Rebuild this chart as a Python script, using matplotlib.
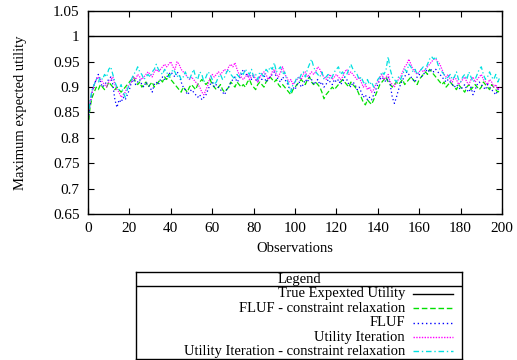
import matplotlib
matplotlib.use("Agg")
import matplotlib.pyplot as plt
import numpy as np
from matplotlib.lines import Line2D

plt.rcParams['font.family'] = ['Liberation Serif', 'DejaVu Serif']
plt.rcParams['font.size'] = 10.5

true_utility = 1.0

fluf_cr = [
    0.82, 0.86, 0.88, 0.89, 0.9, 0.895, 0.905, 0.9, 0.895, 0.9,
    0.91, 0.905, 0.9, 0.895, 0.9, 0.895, 0.89, 0.895, 0.9, 0.905,
    0.91, 0.915, 0.92, 0.91, 0.905, 0.91, 0.9, 0.905, 0.91, 0.9,
    0.905, 0.91, 0.9, 0.905, 0.91, 0.915, 0.91, 0.92, 0.915, 0.925,
    0.915, 0.91, 0.905, 0.9, 0.895, 0.89, 0.9, 0.895, 0.89, 0.9,
    0.905, 0.9, 0.895, 0.905, 0.91, 0.915, 0.91, 0.905, 0.91, 0.915,
    0.905, 0.9, 0.895, 0.9, 0.905, 0.895, 0.89, 0.895, 0.9, 0.91,
    0.905, 0.9, 0.91, 0.905, 0.9, 0.905, 0.9, 0.91, 0.915, 0.905,
    0.9, 0.895, 0.905, 0.91, 0.905, 0.9, 0.91, 0.915, 0.92, 0.915,
    0.91, 0.915, 0.905, 0.9, 0.905, 0.9, 0.895, 0.89, 0.885, 0.895,
    0.9, 0.905, 0.91, 0.915, 0.91, 0.905, 0.915, 0.92, 0.91, 0.905,
    0.91, 0.905, 0.9, 0.89, 0.877, 0.885, 0.89, 0.895, 0.9, 0.895,
    0.9, 0.905, 0.91, 0.915, 0.91, 0.905, 0.9, 0.91, 0.905, 0.9,
    0.895, 0.885, 0.88, 0.87, 0.865, 0.875, 0.87, 0.866, 0.875, 0.885,
    0.895, 0.905, 0.91, 0.915, 0.92, 0.91, 0.905, 0.9, 0.905, 0.91,
    0.905, 0.91, 0.915, 0.905, 0.91, 0.915, 0.92, 0.915, 0.91, 0.905,
    0.915, 0.92, 0.925, 0.93, 0.925, 0.935, 0.93, 0.925, 0.92, 0.915,
    0.91, 0.905, 0.91, 0.9, 0.905, 0.91, 0.905, 0.9, 0.895, 0.905,
    0.9, 0.895, 0.89, 0.9, 0.905, 0.895, 0.9, 0.905, 0.9, 0.895,
    0.9, 0.91, 0.905, 0.9, 0.895, 0.905, 0.9, 0.895, 0.89, 0.895,
]

fluf = [
    0.83, 0.865, 0.89, 0.905, 0.915, 0.925, 0.91, 0.9, 0.905, 0.91,
    0.915, 0.92, 0.905, 0.875, 0.86, 0.875, 0.87, 0.88, 0.875, 0.885,
    0.895, 0.91, 0.915, 0.905, 0.91, 0.915, 0.905, 0.9, 0.91, 0.905,
    0.9, 0.89, 0.905, 0.91, 0.905, 0.915, 0.92, 0.915, 0.92, 0.925,
    0.93, 0.925, 0.92, 0.93, 0.925, 0.91, 0.9, 0.895, 0.885, 0.89,
    0.895, 0.89, 0.885, 0.88, 0.885, 0.875, 0.88, 0.885, 0.895, 0.905,
    0.91, 0.9, 0.905, 0.9, 0.895, 0.89, 0.885, 0.895, 0.9, 0.91,
    0.915, 0.92, 0.91, 0.915, 0.925, 0.935, 0.93, 0.92, 0.925, 0.915,
    0.92, 0.915, 0.91, 0.92, 0.915, 0.925, 0.91, 0.915, 0.92, 0.925,
    0.93, 0.92, 0.915, 0.91, 0.92, 0.915, 0.91, 0.9, 0.895, 0.9,
    0.895, 0.905, 0.91, 0.9, 0.905, 0.915, 0.91, 0.92, 0.915, 0.905,
    0.91, 0.915, 0.905, 0.91, 0.9, 0.905, 0.915, 0.91, 0.905, 0.915,
    0.91, 0.915, 0.905, 0.91, 0.92, 0.915, 0.905, 0.9, 0.91, 0.905,
    0.895, 0.9, 0.89, 0.88, 0.885, 0.875, 0.88, 0.875, 0.885, 0.895,
    0.905, 0.915, 0.92, 0.915, 0.91, 0.92, 0.905, 0.88, 0.868, 0.88,
    0.895, 0.905, 0.915, 0.92, 0.93, 0.925, 0.92, 0.915, 0.91, 0.92,
    0.925, 0.92, 0.925, 0.93, 0.935, 0.93, 0.935, 0.93, 0.935, 0.93,
    0.925, 0.92, 0.915, 0.91, 0.915, 0.91, 0.905, 0.9, 0.905, 0.9,
    0.895, 0.9, 0.905, 0.895, 0.89, 0.9, 0.885, 0.895, 0.905, 0.91,
    0.905, 0.9, 0.895, 0.905, 0.9, 0.895, 0.89, 0.885, 0.895, 0.9,
]

utility_iteration = [
    0.845, 0.87, 0.89, 0.905, 0.915, 0.92, 0.915, 0.91, 0.905, 0.9,
    0.91, 0.915, 0.92, 0.905, 0.895, 0.89, 0.88, 0.885, 0.89, 0.9,
    0.905, 0.91, 0.92, 0.915, 0.925, 0.92, 0.915, 0.92, 0.925, 0.93,
    0.925, 0.92, 0.93, 0.935, 0.93, 0.935, 0.94, 0.945, 0.94, 0.945,
    0.95, 0.94, 0.935, 0.95, 0.945, 0.935, 0.93, 0.925, 0.92, 0.915,
    0.92, 0.915, 0.91, 0.905, 0.9, 0.89, 0.885, 0.895, 0.905, 0.92,
    0.925, 0.92, 0.925, 0.93, 0.925, 0.93, 0.935, 0.93, 0.94, 0.945,
    0.94, 0.948, 0.935, 0.925, 0.92, 0.915, 0.92, 0.925, 0.915, 0.92,
    0.925, 0.915, 0.91, 0.92, 0.925, 0.93, 0.925, 0.915, 0.92, 0.93,
    0.935, 0.925, 0.92, 0.93, 0.94, 0.925, 0.92, 0.91, 0.915, 0.905,
    0.91, 0.915, 0.92, 0.915, 0.925, 0.93, 0.92, 0.925, 0.93, 0.925,
    0.93, 0.94, 0.935, 0.925, 0.92, 0.915, 0.92, 0.925, 0.915, 0.92,
    0.925, 0.92, 0.915, 0.92, 0.93, 0.935, 0.925, 0.93, 0.925, 0.92,
    0.915, 0.92, 0.91, 0.9, 0.905, 0.895, 0.9, 0.89, 0.895, 0.905,
    0.91, 0.92, 0.925, 0.915, 0.92, 0.925, 0.91, 0.905, 0.9, 0.91,
    0.915, 0.92, 0.93, 0.94, 0.945, 0.955, 0.945, 0.935, 0.93, 0.925,
    0.93, 0.935, 0.93, 0.935, 0.94, 0.945, 0.95, 0.955, 0.955, 0.95,
    0.945, 0.935, 0.925, 0.92, 0.925, 0.915, 0.91, 0.92, 0.915, 0.905,
    0.91, 0.915, 0.92, 0.91, 0.905, 0.915, 0.92, 0.91, 0.915, 0.92,
    0.925, 0.915, 0.91, 0.905, 0.915, 0.91, 0.9, 0.905, 0.895, 0.9,
]

utility_iteration_cr = [
    0.835, 0.875, 0.895, 0.905, 0.915, 0.91, 0.92, 0.915, 0.925, 0.92,
    0.935, 0.94, 0.925, 0.91, 0.9, 0.895, 0.905, 0.89, 0.88, 0.895,
    0.905, 0.915, 0.925, 0.93, 0.94, 0.93, 0.925, 0.915, 0.92, 0.925,
    0.92, 0.93, 0.935, 0.945, 0.935, 0.93, 0.925, 0.935, 0.93, 0.92,
    0.925, 0.935, 0.93, 0.92, 0.925, 0.915, 0.92, 0.93, 0.92, 0.915,
    0.925, 0.935, 0.92, 0.915, 0.93, 0.925, 0.91, 0.92, 0.93, 0.925,
    0.915, 0.905, 0.91, 0.92, 0.925, 0.915, 0.92, 0.93, 0.935, 0.925,
    0.92, 0.915, 0.925, 0.92, 0.93, 0.925, 0.935, 0.93, 0.925, 0.935,
    0.92, 0.925, 0.915, 0.93, 0.925, 0.92, 0.935, 0.93, 0.94, 0.935,
    0.948, 0.93, 0.935, 0.94, 0.925, 0.93, 0.915, 0.905, 0.89, 0.905,
    0.91, 0.92, 0.915, 0.925, 0.93, 0.92, 0.935, 0.945, 0.955, 0.94,
    0.93, 0.925, 0.92, 0.93, 0.915, 0.92, 0.925, 0.915, 0.92, 0.93,
    0.935, 0.94, 0.925, 0.93, 0.92, 0.925, 0.935, 0.945, 0.935, 0.93,
    0.925, 0.915, 0.92, 0.91, 0.905, 0.915, 0.905, 0.91, 0.9, 0.905,
    0.915, 0.92, 0.93, 0.925, 0.935, 0.96, 0.935, 0.92, 0.915, 0.91,
    0.92, 0.915, 0.925, 0.935, 0.93, 0.945, 0.94, 0.93, 0.935, 0.925,
    0.93, 0.935, 0.94, 0.935, 0.945, 0.955, 0.96, 0.955, 0.96, 0.945,
    0.935, 0.93, 0.925, 0.915, 0.92, 0.925, 0.915, 0.92, 0.93, 0.915,
    0.91, 0.92, 0.925, 0.915, 0.93, 0.92, 0.91, 0.915, 0.925, 0.935,
    0.94, 0.925, 0.915, 0.92, 0.93, 0.92, 0.915, 0.925, 0.91, 0.92,
]

observations = np.arange(len(fluf))

x_ticks = [0, 20, 40, 60, 80, 100, 120, 140, 160, 180, 200]
y_ticks = [0.65, 0.7, 0.75, 0.8, 0.85, 0.9, 0.95, 1.0, 1.05]
y_tick_labels = ["0.65", "0.7", "0.75", "0.8", "0.85", "0.9", "0.95", "1", "1.05"]

series = [
    ("True Expexted Utility", None, "#000000", "-"),
    ("FLUF - constraint relaxation", fluf_cr, "#00e000", (0, (4, 2))),
    ("FLUF", fluf, "#0000ff", (0, (1, 2))),
    ("Utility Iteration", utility_iteration, "#ff00ff", (0, (1, 1))),
    ("Utility Iteration - constraint relaxation", utility_iteration_cr, "#00e0e0",
     (0, (4, 2, 1, 2))),
]

fig = plt.figure(figsize=(5.17, 3.6), dpi=100)
ax = fig.add_axes([0.1702, 0.4056, 0.8008, 0.5639])

for name, values, color, ls in series:
    if values is None:
        ax.axhline(true_utility, color=color, lw=1.0, ls=ls)
    else:
        ax.plot(observations, values, color=color, lw=0.9, ls=ls)

ax.set_xlim(0, 200)
ax.set_ylim(0.65, 1.05)
ax.set_xticks(x_ticks)
ax.set_yticks(y_ticks)
ax.set_yticklabels(y_tick_labels)
ax.tick_params(direction="in", top=True, right=True, length=4, width=0.8,
               labelsize=11, pad=6)
for sp in ax.spines.values():
    sp.set_linewidth(1.0)
ax.set_xlabel("Observations", fontsize=10.5, labelpad=5)
ax.set_ylabel("Maximum expected utility", fontsize=10.5, labelpad=19)

# Boxed key below the plot
lax = fig.add_axes([136 / 517, 1 / 360, 326 / 517, 87 / 360])
lax.set_xlim(136, 462)
lax.set_ylim(359, 272)
lax.set_xticks([])
lax.set_yticks([])
for sp in lax.spines.values():
    sp.set_linewidth(1.0)
lax.axhline(286, color="black", lw=1.0)
lax.text(299, 279.5, "Legend", ha="center", va="center", fontsize=10.5)
row_y = [294, 308, 322.5, 337, 351]
for (name, values, color, ls), y in zip(series, row_y):
    lax.text(405, y, name, ha="right", va="center", fontsize=10.5)
    lax.add_line(Line2D([413, 453], [y, y], color=color, lw=1.0, ls=ls))

fig.savefig("out.png", dpi=100)
